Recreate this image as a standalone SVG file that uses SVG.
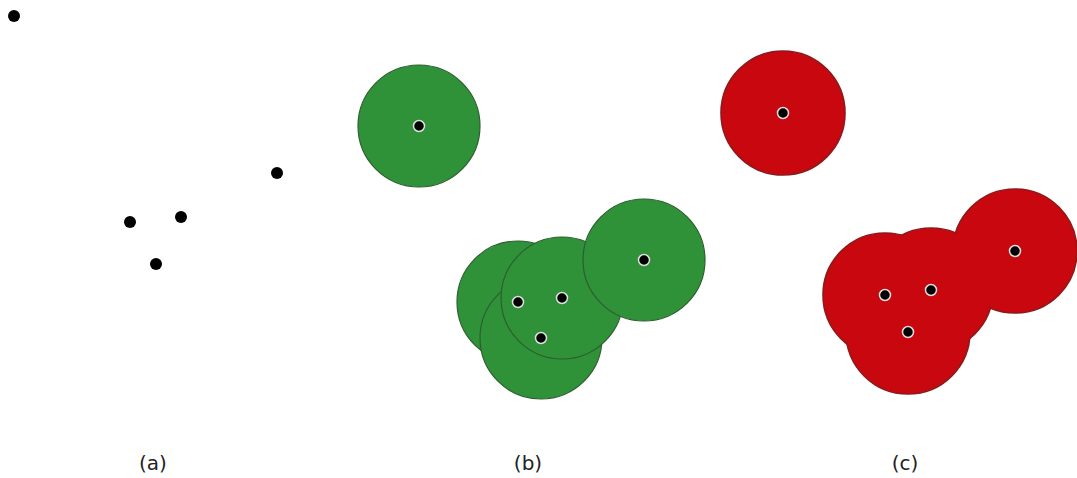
<svg xmlns="http://www.w3.org/2000/svg" width="1077" height="478" viewBox="0 0 1077 478">
  <style>
    .pt { fill: #000; }
    .ptc { fill: #000; stroke: #e0e0e0; stroke-width: 1.5; }
    .buf-g { fill: #2f9239; stroke: #2d5e2f; stroke-width: 1.2; }
    .buf-r-edge { fill: #c8070e; stroke: #8a1a1c; stroke-width: 1.6; }
    .buf-r { fill: #c8070e; }
    .lbl { font-family: "DejaVu Sans", "Noto Sans", sans-serif; font-size: 20px; fill: #222; text-anchor: middle; }
  </style>

  <!-- (a) input points -->
  <g id="points-a">
    <circle class="pt" cx="14" cy="16" r="6"/>
    <circle class="pt" cx="277" cy="173" r="6"/>
    <circle class="pt" cx="130" cy="222" r="6"/>
    <circle class="pt" cx="181" cy="217" r="6"/>
    <circle class="pt" cx="156" cy="264" r="6"/>
  </g>

  <!-- (b) individual buffers -->
  <g id="buffers-b">
    <circle class="buf-g" cx="419" cy="126" r="61"/>
    <circle class="buf-g" cx="518" cy="302" r="61"/>
    <circle class="buf-g" cx="541" cy="338" r="61"/>
    <circle class="buf-g" cx="562" cy="298" r="61"/>
    <circle class="buf-g" cx="644" cy="260" r="61"/>
  </g>
  <g id="points-b">
    <circle class="ptc" cx="419" cy="126" r="5.5"/>
    <circle class="ptc" cx="518" cy="302" r="5.5"/>
    <circle class="ptc" cx="562" cy="298" r="5.5"/>
    <circle class="ptc" cx="541" cy="338" r="5.5"/>
    <circle class="ptc" cx="644" cy="260" r="5.5"/>
  </g>

  <!-- (c) dissolved buffers: outlined discs, then plain fills on top to hide inner edges -->
  <g id="buffers-c">
    <circle class="buf-r-edge" cx="783" cy="113" r="62"/>
    <circle class="buf-r-edge" cx="885" cy="295" r="62"/>
    <circle class="buf-r-edge" cx="931" cy="290" r="62"/>
    <circle class="buf-r-edge" cx="908" cy="332" r="62"/>
    <circle class="buf-r-edge" cx="1015" cy="251" r="62"/>
    <circle class="buf-r" cx="885" cy="295" r="61.2"/>
    <circle class="buf-r" cx="931" cy="290" r="61.2"/>
    <circle class="buf-r" cx="908" cy="332" r="61.2"/>
    <circle class="buf-r" cx="1015" cy="251" r="61.2"/>
  </g>
  <g id="points-c">
    <circle class="ptc" cx="783" cy="113" r="5.5"/>
    <circle class="ptc" cx="885" cy="295" r="5.5"/>
    <circle class="ptc" cx="931" cy="290" r="5.5"/>
    <circle class="ptc" cx="908" cy="332" r="5.5"/>
    <circle class="ptc" cx="1015" cy="251" r="5.5"/>
  </g>

  <g id="labels">
    <text class="lbl" x="153" y="470">(a)</text>
    <text class="lbl" x="528" y="470">(b)</text>
    <text class="lbl" x="905" y="470">(c)</text>
  </g>
</svg>
